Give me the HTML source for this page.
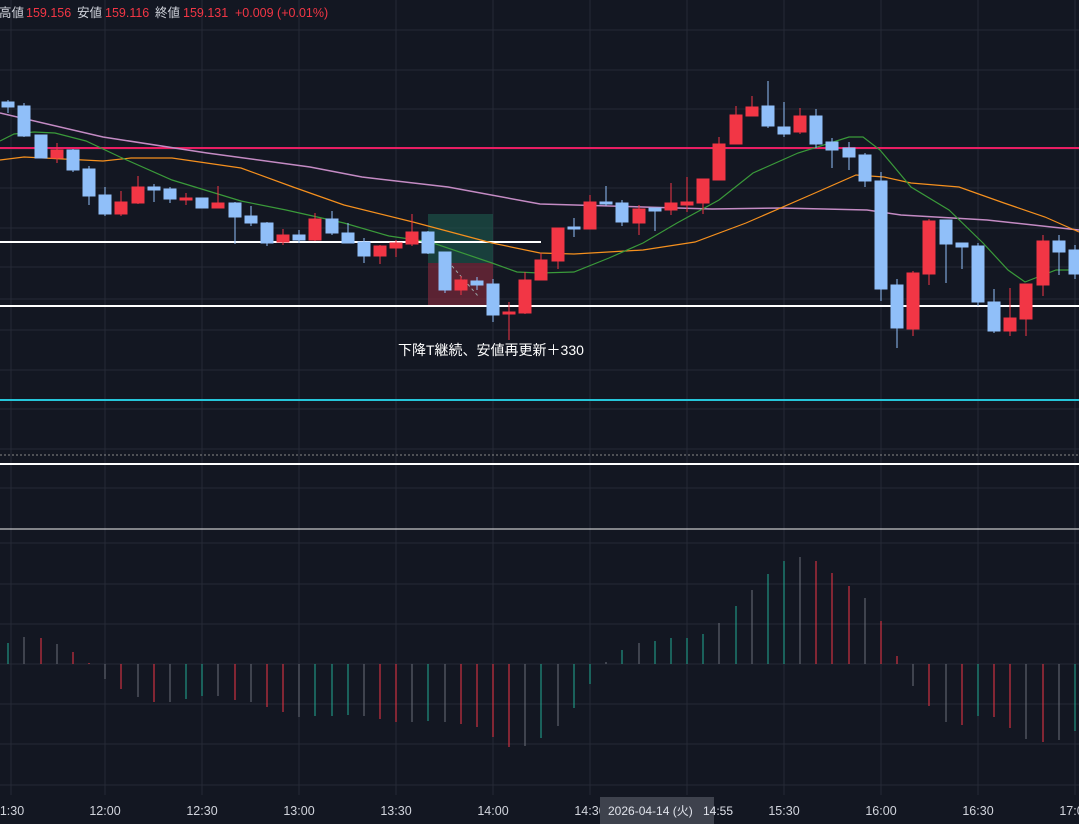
<!DOCTYPE html>
<html><head><meta charset="utf-8"><style>
html,body{margin:0;padding:0;background:#131722;}
svg{display:block;font-family:"Liberation Sans","Noto Sans CJK JP",sans-serif;}
</style></head><body>
<svg width="1079" height="824" viewBox="0 0 1079 824" xmlns="http://www.w3.org/2000/svg">
<rect width="1079" height="824" fill="#131722"/>
<g stroke="#262a36" stroke-width="1">
<line x1="11" y1="0" x2="11" y2="795"/><line x1="105" y1="0" x2="105" y2="795"/><line x1="202" y1="0" x2="202" y2="795"/><line x1="299" y1="0" x2="299" y2="795"/><line x1="396" y1="0" x2="396" y2="795"/><line x1="493" y1="0" x2="493" y2="795"/><line x1="590" y1="0" x2="590" y2="795"/><line x1="687" y1="0" x2="687" y2="795"/><line x1="784" y1="0" x2="784" y2="795"/><line x1="881" y1="0" x2="881" y2="795"/><line x1="978" y1="0" x2="978" y2="795"/><line x1="1075" y1="0" x2="1075" y2="795"/>
<line x1="0" y1="30" x2="1079" y2="30"/><line x1="0" y1="70" x2="1079" y2="70"/><line x1="0" y1="109" x2="1079" y2="109"/><line x1="0" y1="149" x2="1079" y2="149"/><line x1="0" y1="188" x2="1079" y2="188"/><line x1="0" y1="228" x2="1079" y2="228"/><line x1="0" y1="267" x2="1079" y2="267"/><line x1="0" y1="299" x2="1079" y2="299"/><line x1="0" y1="330" x2="1079" y2="330"/><line x1="0" y1="370" x2="1079" y2="370"/><line x1="0" y1="409" x2="1079" y2="409"/><line x1="0" y1="449" x2="1079" y2="449"/><line x1="0" y1="488" x2="1079" y2="488"/>
<line x1="0" y1="543" x2="1079" y2="543"/><line x1="0" y1="584" x2="1079" y2="584"/><line x1="0" y1="624" x2="1079" y2="624"/><line x1="0" y1="664" x2="1079" y2="664"/><line x1="0" y1="704" x2="1079" y2="704"/><line x1="0" y1="744" x2="1079" y2="744"/><line x1="0" y1="785" x2="1079" y2="785"/>
</g>
<rect x="428" y="214" width="65" height="49" fill="#1e5a4e" fill-opacity="0.6"/>
<rect x="428" y="263" width="65" height="43" fill="#7a2a3a" fill-opacity="0.7"/>
<line x1="452" y1="266" x2="478" y2="296" stroke="#9aa" stroke-width="1" stroke-dasharray="3,3"/>
<line x1="0" y1="148" x2="1079" y2="148" stroke="#e91e63" stroke-width="2"/>
<line x1="0" y1="242" x2="541" y2="242" stroke="#ffffff" stroke-width="2"/>
<line x1="0" y1="306" x2="1079" y2="306" stroke="#ffffff" stroke-width="2"/>
<line x1="0" y1="400" x2="1079" y2="400" stroke="#26c6da" stroke-width="2"/>
<line x1="0" y1="455" x2="1079" y2="455" stroke="#888" stroke-width="1" stroke-dasharray="2,2"/>
<line x1="0" y1="464" x2="1079" y2="464" stroke="#ffffff" stroke-width="2"/>
<line x1="0" y1="529" x2="1079" y2="529" stroke="#f0f0f0" stroke-width="1"/>
<polyline fill="none" stroke="#c48bc4" stroke-width="1.5" points="0,113 103,137 207,153 310,167 362,177 448,187 540,204 643,207 712,209 781,208 867,210 901,215 987,220 1079,230"/>
<polyline fill="none" stroke="#f5901e" stroke-width="1.2" points="0,160 24,157 103,161 131,158 172,158 241,168 293,187 344,205 413,222 492,243 540,253 574,254 643,250 695,242 746,223 815,193 856,175 884,177 911,183 959,187 1004,203 1045,217 1079,232"/>
<polyline fill="none" stroke="#3a9a3a" stroke-width="1.2" points="0,141 14,134 34,132 55,133 86,141 120,157 172,180 241,201 286,210 344,223 389,236 430,242 492,263 517,272 540,273 574,272 609,258 643,243 677,223 719,200 753,173 798,153 849,137 863,137 880,150 911,187 949,210 983,243 1008,270 1025,282 1056,270 1079,270"/>
<g stroke-width="1">
<g stroke="#90bff9" fill="#90bff9">
<line x1="8" y1="100" x2="8" y2="113"/><rect x="2" y="102" width="12" height="5"/>
<line x1="24" y1="103" x2="24" y2="137"/><rect x="18" y="106" width="12" height="30"/>
<line x1="41" y1="135" x2="41" y2="158"/><rect x="35" y="135" width="12" height="23"/>
<line x1="73" y1="149" x2="73" y2="172"/><rect x="67" y="150" width="12" height="20"/>
<line x1="89" y1="166" x2="89" y2="205"/><rect x="83" y="169" width="12" height="27"/>
<line x1="105" y1="187" x2="105" y2="216"/><rect x="99" y="195" width="12" height="19"/>
<line x1="154" y1="184" x2="154" y2="202"/><rect x="148" y="187" width="12" height="3"/>
<line x1="170" y1="187" x2="170" y2="203"/><rect x="164" y="189" width="12" height="10"/>
<line x1="202" y1="198" x2="202" y2="208"/><rect x="196" y="198" width="12" height="10"/>
<line x1="235" y1="202" x2="235" y2="244"/><rect x="229" y="203" width="12" height="14"/>
<line x1="251" y1="206" x2="251" y2="226"/><rect x="245" y="216" width="12" height="7"/>
<line x1="267" y1="222" x2="267" y2="246"/><rect x="261" y="223" width="12" height="20"/>
<line x1="299" y1="230" x2="299" y2="243"/><rect x="293" y="235" width="12" height="5"/>
<line x1="332" y1="211" x2="332" y2="235"/><rect x="326" y="219" width="12" height="14"/>
<line x1="348" y1="223" x2="348" y2="243"/><rect x="342" y="233" width="12" height="10"/>
<line x1="364" y1="238" x2="364" y2="263"/><rect x="358" y="242" width="12" height="14"/>
<line x1="428" y1="231" x2="428" y2="254"/><rect x="422" y="232" width="12" height="21"/>
<line x1="445" y1="252" x2="445" y2="293"/><rect x="439" y="252" width="12" height="38"/>
<line x1="477" y1="277" x2="477" y2="290"/><rect x="471" y="281" width="12" height="4"/>
<line x1="493" y1="279" x2="493" y2="322"/><rect x="487" y="284" width="12" height="31"/>
<line x1="574" y1="218" x2="574" y2="237"/><rect x="568" y="227" width="12" height="2"/>
<line x1="606" y1="186" x2="606" y2="206"/><rect x="600" y="202" width="12" height="2"/>
<line x1="622" y1="200" x2="622" y2="226"/><rect x="616" y="203" width="12" height="19"/>
<line x1="655" y1="208" x2="655" y2="231"/><rect x="649" y="208" width="12" height="3"/>
<line x1="768" y1="81" x2="768" y2="128"/><rect x="762" y="106" width="12" height="20"/>
<line x1="784" y1="102" x2="784" y2="137"/><rect x="778" y="127" width="12" height="7"/>
<line x1="816" y1="109" x2="816" y2="148"/><rect x="810" y="116" width="12" height="28"/>
<line x1="832" y1="138" x2="832" y2="168"/><rect x="826" y="142" width="12" height="8"/>
<line x1="849" y1="142" x2="849" y2="170"/><rect x="843" y="148" width="12" height="9"/>
<line x1="865" y1="153" x2="865" y2="187"/><rect x="859" y="155" width="12" height="26"/>
<line x1="881" y1="172" x2="881" y2="301"/><rect x="875" y="181" width="12" height="108"/>
<line x1="897" y1="279" x2="897" y2="348"/><rect x="891" y="285" width="12" height="43"/>
<line x1="946" y1="220" x2="946" y2="283"/><rect x="940" y="220" width="12" height="24"/>
<line x1="962" y1="243" x2="962" y2="269"/><rect x="956" y="243" width="12" height="4"/>
<line x1="978" y1="243" x2="978" y2="306"/><rect x="972" y="246" width="12" height="56"/>
<line x1="994" y1="289" x2="994" y2="333"/><rect x="988" y="302" width="12" height="29"/>
<line x1="1059" y1="235" x2="1059" y2="275"/><rect x="1053" y="241" width="12" height="11"/>
<line x1="1075" y1="245" x2="1075" y2="279"/><rect x="1069" y="250" width="12" height="24"/>
</g>
<g stroke="#f23645" fill="#f23645">
<line x1="57" y1="143" x2="57" y2="163"/><rect x="51" y="150" width="12" height="8"/>
<line x1="121" y1="191" x2="121" y2="216"/><rect x="115" y="202" width="12" height="12"/>
<line x1="138" y1="176" x2="138" y2="204"/><rect x="132" y="187" width="12" height="16"/>
<line x1="186" y1="193" x2="186" y2="205"/><rect x="180" y="198" width="12" height="2"/>
<line x1="218" y1="186" x2="218" y2="208"/><rect x="212" y="203" width="12" height="5"/>
<line x1="283" y1="229" x2="283" y2="245"/><rect x="277" y="235" width="12" height="7"/>
<line x1="315" y1="213" x2="315" y2="241"/><rect x="309" y="219" width="12" height="21"/>
<line x1="380" y1="245" x2="380" y2="264"/><rect x="374" y="246" width="12" height="10"/>
<line x1="396" y1="240" x2="396" y2="257"/><rect x="390" y="243" width="12" height="5"/>
<line x1="412" y1="214" x2="412" y2="246"/><rect x="406" y="232" width="12" height="12"/>
<line x1="461" y1="276" x2="461" y2="295"/><rect x="455" y="280" width="12" height="10"/>
<line x1="509" y1="302" x2="509" y2="340"/><rect x="503" y="312" width="12" height="2"/>
<line x1="525" y1="272" x2="525" y2="314"/><rect x="519" y="280" width="12" height="33"/>
<line x1="541" y1="253" x2="541" y2="280"/><rect x="535" y="260" width="12" height="20"/>
<line x1="558" y1="228" x2="558" y2="269"/><rect x="552" y="228" width="12" height="33"/>
<line x1="590" y1="195" x2="590" y2="229"/><rect x="584" y="202" width="12" height="27"/>
<line x1="639" y1="205" x2="639" y2="235"/><rect x="633" y="209" width="12" height="14"/>
<line x1="671" y1="183" x2="671" y2="215"/><rect x="665" y="203" width="12" height="7"/>
<line x1="687" y1="177" x2="687" y2="212"/><rect x="681" y="202" width="12" height="3"/>
<line x1="703" y1="179" x2="703" y2="214"/><rect x="697" y="179" width="12" height="24"/>
<line x1="719" y1="137" x2="719" y2="180"/><rect x="713" y="144" width="12" height="36"/>
<line x1="736" y1="106" x2="736" y2="144"/><rect x="730" y="115" width="12" height="29"/>
<line x1="752" y1="96" x2="752" y2="116"/><rect x="746" y="107" width="12" height="9"/>
<line x1="800" y1="108" x2="800" y2="134"/><rect x="794" y="116" width="12" height="16"/>
<line x1="913" y1="271" x2="913" y2="336"/><rect x="907" y="273" width="12" height="56"/>
<line x1="929" y1="219" x2="929" y2="285"/><rect x="923" y="221" width="12" height="53"/>
<line x1="1010" y1="288" x2="1010" y2="336"/><rect x="1004" y="318" width="12" height="13"/>
<line x1="1026" y1="284" x2="1026" y2="336"/><rect x="1020" y="284" width="12" height="35"/>
<line x1="1043" y1="235" x2="1043" y2="296"/><rect x="1037" y="241" width="12" height="44"/>
</g>
</g>
<text x="398" y="355" fill="#ffffff" font-size="14">下降T継続、安値再更新＋330</text>
<g stroke-width="1">
<g stroke="#22ab94">
<line x1="8" y1="664" x2="8" y2="643"/><line x1="186" y1="664" x2="186" y2="699"/><line x1="202" y1="664" x2="202" y2="696"/><line x1="315" y1="664" x2="315" y2="716"/><line x1="332" y1="664" x2="332" y2="716"/><line x1="348" y1="664" x2="348" y2="715"/><line x1="428" y1="664" x2="428" y2="721"/><line x1="541" y1="664" x2="541" y2="738"/><line x1="574" y1="664" x2="574" y2="708"/><line x1="590" y1="664" x2="590" y2="684"/><line x1="622" y1="664" x2="622" y2="650"/><line x1="655" y1="664" x2="655" y2="641"/><line x1="671" y1="664" x2="671" y2="638"/><line x1="687" y1="664" x2="687" y2="638"/><line x1="703" y1="664" x2="703" y2="634"/><line x1="736" y1="664" x2="736" y2="606"/><line x1="768" y1="664" x2="768" y2="574"/><line x1="784" y1="664" x2="784" y2="561"/><line x1="978" y1="664" x2="978" y2="716"/><line x1="1075" y1="664" x2="1075" y2="731"/>
</g>
<g stroke="#f23645">
<line x1="41" y1="664" x2="41" y2="638"/><line x1="73" y1="664" x2="73" y2="652"/><line x1="89" y1="664" x2="89" y2="663"/><line x1="121" y1="664" x2="121" y2="689"/><line x1="154" y1="664" x2="154" y2="702"/><line x1="235" y1="664" x2="235" y2="700"/><line x1="267" y1="664" x2="267" y2="707"/><line x1="283" y1="664" x2="283" y2="712"/><line x1="380" y1="664" x2="380" y2="719"/><line x1="396" y1="664" x2="396" y2="722"/><line x1="461" y1="664" x2="461" y2="724"/><line x1="477" y1="664" x2="477" y2="727"/><line x1="493" y1="664" x2="493" y2="737"/><line x1="509" y1="664" x2="509" y2="747"/><line x1="816" y1="664" x2="816" y2="561"/><line x1="832" y1="664" x2="832" y2="573"/><line x1="849" y1="664" x2="849" y2="586"/><line x1="881" y1="664" x2="881" y2="621"/><line x1="897" y1="664" x2="897" y2="656"/><line x1="929" y1="664" x2="929" y2="706"/><line x1="962" y1="664" x2="962" y2="725"/><line x1="994" y1="664" x2="994" y2="717"/><line x1="1010" y1="664" x2="1010" y2="728"/><line x1="1043" y1="664" x2="1043" y2="742"/>
</g>
<g stroke="#6b6f7a">
<line x1="24" y1="664" x2="24" y2="637"/><line x1="57" y1="664" x2="57" y2="644"/><line x1="105" y1="664" x2="105" y2="679"/><line x1="138" y1="664" x2="138" y2="697"/><line x1="170" y1="664" x2="170" y2="702"/><line x1="218" y1="664" x2="218" y2="696"/><line x1="251" y1="664" x2="251" y2="702"/><line x1="299" y1="664" x2="299" y2="717"/><line x1="364" y1="664" x2="364" y2="716"/><line x1="412" y1="664" x2="412" y2="722"/><line x1="445" y1="664" x2="445" y2="722"/><line x1="525" y1="664" x2="525" y2="746"/><line x1="558" y1="664" x2="558" y2="726"/><line x1="606" y1="664" x2="606" y2="662"/><line x1="639" y1="664" x2="639" y2="643"/><line x1="719" y1="664" x2="719" y2="623"/><line x1="752" y1="664" x2="752" y2="590"/><line x1="800" y1="664" x2="800" y2="557"/><line x1="865" y1="664" x2="865" y2="598"/><line x1="913" y1="664" x2="913" y2="686"/><line x1="946" y1="664" x2="946" y2="722"/><line x1="1026" y1="664" x2="1026" y2="739"/><line x1="1059" y1="664" x2="1059" y2="740"/>
</g>
</g>
<g fill="#d1d4dc" font-size="12.5" text-anchor="middle">
<text x="12" y="815">1:30</text><text x="105" y="815">12:00</text><text x="202" y="815">12:30</text><text x="299" y="815">13:00</text><text x="396" y="815">13:30</text><text x="493" y="815">14:00</text><text x="590" y="815">14:30</text><text x="784" y="815">15:30</text><text x="881" y="815">16:00</text><text x="978" y="815">16:30</text><text x="1075" y="815">17:00</text>
</g>
<rect x="600" y="797" width="114" height="27" fill="#3e424d"/>
<text x="608" y="815" fill="#e0e3eb" font-size="12">2026-04-14 (火)</text>
<text x="703" y="815" fill="#e0e3eb" font-size="12">14:55</text>
<g font-size="12.5">
<text x="-1" y="17" fill="#d1d4dc">高値</text><text x="26" y="17" fill="#f23645">159.156</text>
<text x="77" y="17" fill="#d1d4dc">安値</text><text x="105" y="17" fill="#f23645">159.116</text>
<text x="155" y="17" fill="#d1d4dc">終値</text><text x="183" y="17" fill="#f23645">159.131</text>
<text x="235" y="17" fill="#f23645">+0.009 (+0.01%)</text>
</g>
</svg>
</body></html>
